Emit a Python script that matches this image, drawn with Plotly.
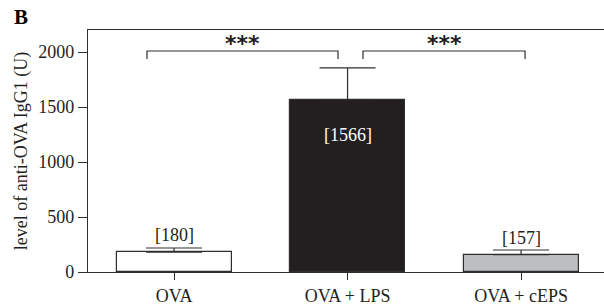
import plotly.graph_objects as go

categories = ["OVA", "OVA + LPS", "OVA + cEPS"]
values = [180, 1566, 157]
errors = [38, 290, 43]
value_labels = ["[180]", "[1566]", "[157]"]
bar_colors = ["#ffffff", "#231f20", "#bcbec0"]
y_ticks = [0, 500, 1000, 1500, 2000]

# significance brackets: (x_start, x_end, y_top, y_drop, label)
brackets = [(-0.156, 0.945, 2009, 1936, "***"), (1.089, 2.023, 2009, 1936, "***")]

x_idx = list(range(len(categories)))
font_family = "Liberation Serif, Times New Roman, serif"

fig = go.Figure()
fig.add_trace(go.Bar(
    x=x_idx, y=values, width=0.663,
    marker=dict(color=bar_colors, line=dict(color="#2e2e2e", width=1.2)),
    error_y=dict(type="data", array=errors, arrayminus=[0, 0, 0], symmetric=False,
                 color="#2e2e2e", thickness=1.2, width=28),
    showlegend=False, hoverinfo="skip",
))

# value labels
for i, (v, e, lab) in enumerate(zip(values, errors, value_labels)):
    if i == 1:
        fig.add_annotation(x=i, y=v - 320, text=lab, showarrow=False,
                           font=dict(family=font_family, size=18, color="white"))
    else:
        fig.add_annotation(x=i, y=v + 45, text=lab, showarrow=False, yanchor="bottom",
                           font=dict(family=font_family, size=18, color="#231f20"))

for x0, x1, yt, yd, lab in brackets:
    fig.add_trace(go.Scatter(x=[x0, x0, x1, x1], y=[yd, yt, yt, yd], mode="lines",
                             line=dict(color="#2e2e2e", width=1.2),
                             showlegend=False, hoverinfo="skip"))
    fig.add_annotation(x=(x0 + x1) / 2, y=2080, text="<b>" + lab + "</b>", showarrow=False,
                       yanchor="middle",
                       font=dict(family="DejaVu Sans, Arial, sans-serif", size=22, color="#231f20"))

fig.add_annotation(xref="paper", yref="paper", x=-0.129, y=1.052, xanchor="center", yanchor="middle",
                   text="<b>B</b>", showarrow=False,
                   font=dict(family=font_family, size=21, color="#000000"))

fig.update_layout(
    width=604, height=306,
    margin=dict(l=88, r=0, t=30, b=34),
    plot_bgcolor="white", paper_bgcolor="white",
    font=dict(family=font_family, size=18, color="#231f20"),
    bargap=0,
)
fig.update_xaxes(
    range=[-0.496, 2.478], tickmode="array", tickvals=x_idx, ticktext=categories,
    showline=True, linecolor="#2e2e2e", linewidth=1.2, mirror=True,
    ticks="outside", ticklen=7, tickcolor="#2e2e2e", showgrid=False, zeroline=False,
    tickfont=dict(family=font_family, size=18, color="#231f20"),
)
fig.update_yaxes(
    range=[0, 2200], tickvals=y_ticks,
    showline=True, linecolor="#2e2e2e", linewidth=1.2,
    ticks="outside", ticklen=9, tickcolor="#2e2e2e", showgrid=False, zeroline=False,
    tickfont=dict(family=font_family, size=18, color="#231f20"),
    title=dict(text="level of anti-OVA IgG1 (U)", standoff=5,
               font=dict(family=font_family, size=18, color="#231f20")),
)

fig.write_html("out.html", config={"displayModeBar": False},
               post_script="document.body.style.margin='0';document.body.style.overflow='hidden';")
